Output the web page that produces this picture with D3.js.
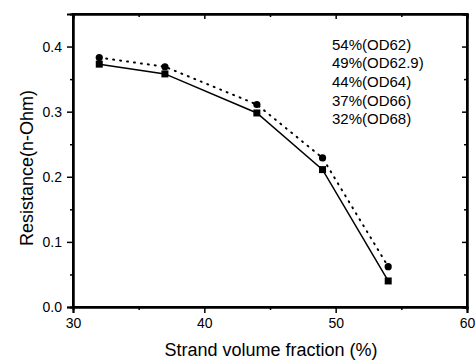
<!DOCTYPE html>
<html>
<head>
    <script src="https://d3js.org/d3.v7.min.js"></script>
    <style>
        body, html { margin: 0; background: #fff; }
        text { font-family: "Liberation Sans", Arial, sans-serif; fill: #000; }
    </style>
</head>
<body>
<div id="chart"></div>
<script>
    // data
    const fraction = [32, 37, 44, 49, 54];
    const resistSquare = [0.373, 0.358, 0.298, 0.211, 0.040];
    const resistCircle = [0.383, 0.369, 0.311, 0.229, 0.062];
    const legendLabels = ["54%(OD62)", "49%(OD62.9)", "44%(OD64)", "37%(OD66)", "32%(OD68)"];
    const xTicks = [30, 40, 50, 60];
    const yTicks = [0.0, 0.1, 0.2, 0.3, 0.4];

    const width = 476, height = 361;
    const mLeft = 73, mRight = 467, mTop = 14, mBottom = 307;

    const svg = d3.select("#chart").append("svg")
        .attr("width", width).attr("height", height);

    const x = d3.scaleLinear().domain([30, 60]).range([mLeft, mRight]);
    const y = d3.scaleLinear().domain([0, 0.45]).range([mBottom, mTop]);

    const minorX = d3.range(35, 60, 10);
    const minorY = d3.range(0.05, 0.45, 0.1);

    // bottom axis
    svg.append("g").attr("transform", `translate(0,${mBottom})`)
        .call(d3.axisBottom(x).tickValues(xTicks).tickFormat(d3.format("d")).tickSize(6).tickPadding(5));
    svg.append("g").attr("transform", `translate(0,${mBottom})`)
        .call(d3.axisBottom(x).tickValues(minorX).tickFormat("").tickSize(3));
    // left axis
    svg.append("g").attr("transform", `translate(${mLeft},0)`)
        .call(d3.axisLeft(y).tickValues(yTicks).tickFormat(d3.format(".1f")).tickSize(6).tickPadding(5));
    svg.append("g").attr("transform", `translate(${mLeft},0)`)
        .call(d3.axisLeft(y).tickValues(minorY).tickFormat("").tickSize(3));
    // top and right, ticks pointing in
    svg.append("g").attr("transform", `translate(0,${mTop})`)
        .call(d3.axisTop(x).tickValues(xTicks).tickFormat("").tickSize(-5));
    svg.append("g").attr("transform", `translate(0,${mTop})`)
        .call(d3.axisTop(x).tickValues(minorX).tickFormat("").tickSize(-3));
    svg.append("g").attr("transform", `translate(${mRight},0)`)
        .call(d3.axisRight(y).tickValues(yTicks).tickFormat("").tickSize(-5));
    svg.append("g").attr("transform", `translate(${mRight},0)`)
        .call(d3.axisRight(y).tickValues(minorY).tickFormat("").tickSize(-3));

    svg.selectAll(".domain").attr("stroke", "#000").attr("stroke-width", 2);
    svg.selectAll(".tick line").attr("stroke", "#000").attr("stroke-width", 1.5);
    svg.selectAll(".tick text").style("font-size", "14px");

    // frame
    svg.append("rect")
        .attr("x", mLeft).attr("y", mTop)
        .attr("width", mRight - mLeft).attr("height", mBottom - mTop)
        .attr("fill", "none").attr("stroke", "#000").attr("stroke-width", 2);

    const line = d3.line().x((d, i) => x(fraction[i])).y(d => y(d));

    svg.append("path").datum(resistCircle)
        .attr("d", line).attr("fill", "none").attr("stroke", "#000")
        .attr("stroke-width", 2).attr("stroke-dasharray", "1,6").attr("stroke-linecap", "round");
    svg.append("path").datum(resistSquare)
        .attr("d", line).attr("fill", "none").attr("stroke", "#000").attr("stroke-width", 1.5);

    svg.selectAll(".sq").data(resistSquare).enter().append("rect")
        .attr("x", (d, i) => x(fraction[i]) - 3.5).attr("y", d => y(d) - 3.5)
        .attr("width", 7).attr("height", 7).attr("fill", "#000");
    svg.selectAll(".ci").data(resistCircle).enter().append("circle")
        .attr("cx", (d, i) => x(fraction[i])).attr("cy", d => y(d))
        .attr("r", 3.6).attr("fill", "#000");

    // legend text
    svg.selectAll(".lg").data(legendLabels).enter().append("text")
        .attr("x", 332).attr("y", (d, i) => 49.5 + i * 18.7)
        .style("font-size", "15px").text(d => d);

    // axis titles
    svg.append("text").attr("x", 271).attr("y", 356)
        .attr("text-anchor", "middle").style("font-size", "18px")
        .text("Strand volume fraction (%)");
    svg.append("text").attr("transform", "translate(33,168) rotate(-90)")
        .attr("text-anchor", "middle").style("font-size", "18px")
        .text("Resistance(n-Ohm)");
</script>
</body>
</html>
